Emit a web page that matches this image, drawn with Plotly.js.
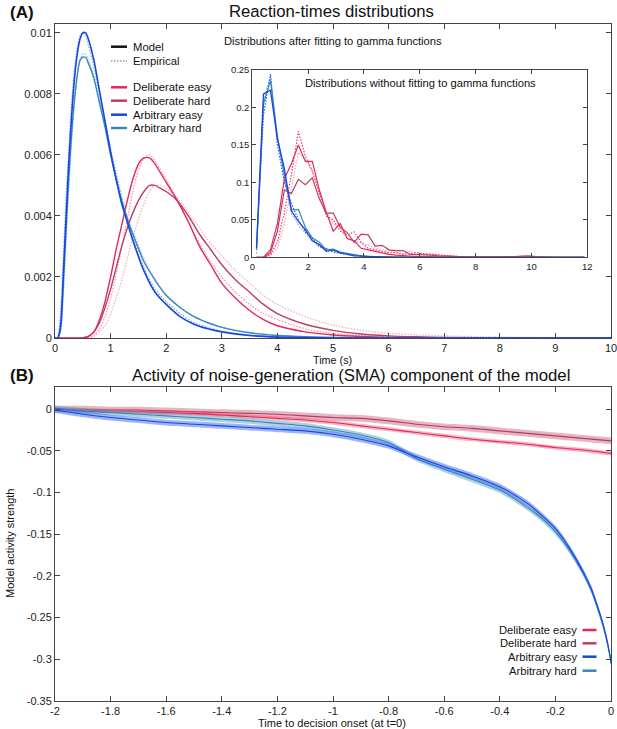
<!DOCTYPE html>
<html><head><meta charset="utf-8">
<script src="https://cdn.plot.ly/plotly-3.0.1.min.js"></script>
<style>html,body{margin:0;padding:0;background:#fff}#chart{width:617px;height:729px}</style>
</head><body><div id="chart"></div>
<script>
// ---------- Panel A: fitted gamma distributions ----------
const rtTimeArb = [0,0.05,0.1,0.15,0.2,0.25,0.3,0.35,0.4,0.45,0.5,0.55,0.6,0.7,0.8,0.9,1.0,1.1,1.2,1.3,1.4,1.6,1.8,2.0,2.25,2.5,2.75,3.0,3.5,4.0,4.5,5,6,7,8,9,10];
const arbEasyModel = [0,0,0.0004,0.0021,0.0040,0.0058,0.0073,0.0085,0.0093,0.0098,0.0100,0.0100,0.0098,0.0091,0.0081,0.0071,0.0061,0.0052,0.0044,0.0038,0.0032,0.0022,0.0015,0.0011,0.0007,0.00045,0.0003,0.0002,0.00008,0.00003,0.00001,0,0,0,0,0,0];
const arbHardModel = [0,0,0.0003,0.0018,0.0036,0.0053,0.0067,0.0078,0.0086,0.0091,0.0092,0.0092,0.0090,0.0085,0.0077,0.0069,0.0060,0.0052,0.0045,0.0039,0.0034,0.0025,0.0019,0.0014,0.0010,0.0007,0.0005,0.00035,0.00017,0.00008,0.00004,0.00002,0.00001,0,0,0,0];
const arbEasyEmp = [0,0.0001,0.0008,0.0027,0.0046,0.0063,0.0077,0.0088,0.0095,0.0099,0.0100,0.0099,0.0096,0.0089,0.0080,0.0071,0.0062,0.0054,0.0046,0.0039,0.0033,0.0023,0.0016,0.0012,0.0008,0.0005,0.00035,0.00022,0.0001,0.00004,0.00002,0.00001,0,0,0,0,0];
const arbHardEmp = [0,0,0.0002,0.0014,0.0032,0.0050,0.0065,0.0077,0.0086,0.0091,0.0093,0.0093,0.0091,0.0086,0.0078,0.0070,0.0061,0.0053,0.0046,0.0040,0.0035,0.0026,0.0019,0.0014,0.0010,0.0007,0.0005,0.00036,0.00018,0.00009,0.00004,0.00002,0.00001,0,0,0,0];

const rtTimeDel = [0,0.5,0.6,0.7,0.8,0.9,1.0,1.1,1.2,1.3,1.4,1.5,1.6,1.7,1.8,1.9,2.0,2.2,2.4,2.6,2.8,3.0,3.25,3.5,3.75,4.0,4.5,5.0,5.5,6.0,6.5,7.0,8.0,9.0,10];
const delEasyModel = [0,0,0.00005,0.0002,0.0006,0.0012,0.0020,0.0029,0.0037,0.0045,0.0052,0.0057,0.0059,0.0059,0.0057,0.0054,0.0051,0.0045,0.0038,0.0030,0.0024,0.0018,0.0013,0.0009,0.0006,0.0004,0.0002,0.0001,0.00005,0.00002,0.00001,0,0,0,0];
const delHardModel = [0,0,0.00005,0.0002,0.0005,0.0010,0.0016,0.0023,0.0030,0.0036,0.0041,0.0045,0.0048,0.0050,0.0050,0.0049,0.0048,0.0045,0.0040,0.0034,0.0029,0.0024,0.0019,0.0015,0.0011,0.0008,0.00045,0.00025,0.00013,0.00007,0.00004,0.00002,0,0,0];
const delEasyEmp = [0,0,0,0.0001,0.0003,0.0007,0.0013,0.0021,0.0030,0.0039,0.0048,0.0055,0.0059,0.0060,0.0058,0.0055,0.0052,0.0045,0.0038,0.0031,0.0025,0.0020,0.0015,0.0011,0.0008,0.0006,0.0003,0.00015,0.00008,0.00004,0.00002,0.00001,0,0,0];
const delHardEmp = [0,0,0,0.00005,0.0002,0.0004,0.0008,0.0013,0.0019,0.0026,0.0033,0.0039,0.0044,0.0048,0.0050,0.0050,0.0049,0.0046,0.0041,0.0036,0.0031,0.0027,0.0022,0.0018,0.0014,0.0011,0.0007,0.00042,0.00026,0.00016,0.0001,0.00007,0.00003,0.00001,0];

// ---------- Inset: raw histograms ----------
const binTime = [0.15,0.4,0.65,0.9,1.15,1.4,1.65,1.9,2.15,2.4,2.65,2.9,3.15,3.4,3.65,3.9,4.15,4.4,4.65,4.9,5.15,5.4,5.65,5.9,6.15,6.4,6.65,6.9,7.15,7.4,7.65,7.9,8.15,8.4,8.65,8.9,9.15,9.4,9.65,9.9,10.15,10.4,10.65,10.9,11.15,11.4,11.65,11.9];
const arbEasyRawModel = [0.012,0.218,0.223,0.158,0.118,0.062,0.048,0.037,0.022,0.017,0.008,0.010,0.006,0.004,0.002,0.0015,0.001,0.0005,0.0003,0.0002,0,0,0,0,0,0,0,0,0,0,0,0,0,0,0,0,0,0,0,0,0,0,0,0,0,0,0,0];
const arbHardRawModel = [0.010,0.205,0.236,0.160,0.110,0.063,0.064,0.040,0.026,0.020,0.010,0.011,0.007,0.005,0.003,0.002,0.001,0.0008,0.0005,0.0003,0.0002,0,0,0,0,0,0,0,0,0,0,0,0,0,0,0,0,0,0,0,0,0,0,0,0,0,0,0];
const arbEasyRawEmp = [0.012,0.190,0.245,0.150,0.100,0.072,0.050,0.034,0.025,0.014,0.012,0.007,0.005,0.004,0.002,0.001,0.001,0.0005,0.0003,0,0,0,0,0,0,0,0,0,0,0,0,0,0,0,0,0,0,0,0,0,0,0,0,0,0,0,0,0];
const arbHardRawEmp = [0.005,0.210,0.240,0.165,0.105,0.058,0.043,0.032,0.022,0.015,0.010,0.008,0.006,0.004,0.003,0.002,0.001,0.0005,0.0002,0,0,0,0,0,0,0,0,0,0,0,0,0,0,0,0,0,0,0,0,0,0,0,0,0,0,0,0,0];
const delEasyRawModel = [0,0,0.010,0.045,0.105,0.125,0.150,0.128,0.128,0.090,0.060,0.035,0.045,0.025,0.022,0.012,0.010,0.008,0.005,0.004,0.003,0.002,0.0015,0.001,0.001,0.0005,0.0005,0.0003,0.0002,0,0,0,0,0,0,0,0,0,0,0,0,0,0,0,0,0,0,0];
const delHardRawModel = [0,0,0.006,0.035,0.090,0.085,0.104,0.097,0.106,0.078,0.059,0.059,0.040,0.033,0.020,0.031,0.030,0.015,0.016,0.010,0.009,0.009,0.004,0.004,0.003,0.003,0.002,0.002,0.001,0.001,0.0005,0.0005,0.0005,0.0003,0.0003,0.0003,0.0005,0.001,0.0015,0.002,0.001,0.0005,0,0,0,0,0,0];
const delEasyRawEmp = [0,0,0.003,0.020,0.060,0.110,0.168,0.135,0.115,0.085,0.055,0.050,0.035,0.030,0.034,0.020,0.012,0.010,0.008,0.006,0.006,0.004,0.005,0.006,0.005,0.004,0.003,0.002,0.001,0.001,0.0005,0.0005,0,0,0,0,0,0,0,0,0,0,0,0,0,0,0,0];
const delHardRawEmp = [0,0,0.002,0.012,0.045,0.095,0.140,0.130,0.115,0.090,0.060,0.045,0.040,0.025,0.022,0.020,0.016,0.012,0.010,0.008,0.007,0.005,0.008,0.006,0.004,0.004,0.003,0.003,0.002,0.001,0.001,0.0005,0.0005,0.0003,0,0,0,0,0,0,0,0,0,0,0,0,0,0];

// ---------- Panel B: SMA activity ----------
const onsetTimeDel = [-2,-1.9,-1.8,-1.7,-1.6,-1.5,-1.4,-1.3,-1.2,-1.1,-1.0,-0.9,-0.8,-0.7,-0.6,-0.5,-0.4,-0.3,-0.2,-0.1,0];
const delEasyAct = [0,-0.001,-0.002,-0.003,-0.004,-0.005,-0.007,-0.009,-0.011,-0.013,-0.016,-0.020,-0.024,-0.028,-0.032,-0.036,-0.039,-0.042,-0.046,-0.049,-0.053];
const delHardAct = [0,0,-0.001,-0.001,-0.002,-0.003,-0.004,-0.005,-0.006,-0.008,-0.010,-0.011,-0.014,-0.018,-0.021,-0.023,-0.026,-0.029,-0.032,-0.035,-0.038];
const onsetTimeArb = [-2,-1.9,-1.8,-1.7,-1.6,-1.5,-1.4,-1.3,-1.2,-1.1,-1.0,-0.9,-0.8,-0.7,-0.6,-0.5,-0.4,-0.3,-0.25,-0.2,-0.15,-0.1,-0.07,-0.05,-0.03,-0.02,-0.01,0];
const arbEasyAct = [-0.001,-0.006,-0.010,-0.013,-0.016,-0.018,-0.020,-0.022,-0.024,-0.026,-0.030,-0.036,-0.044,-0.057,-0.069,-0.080,-0.093,-0.113,-0.127,-0.143,-0.166,-0.195,-0.216,-0.235,-0.256,-0.269,-0.284,-0.305];
const arbHardAct = [0.001,-0.002,-0.004,-0.006,-0.008,-0.010,-0.012,-0.014,-0.017,-0.020,-0.025,-0.031,-0.040,-0.059,-0.072,-0.084,-0.097,-0.118,-0.131,-0.147,-0.169,-0.197,-0.218,-0.237,-0.258,-0.271,-0.286,-0.300];
const delEasySem = 0.0025, delHardSem = 0.004, arbEasySem = 0.0035, arbHardSem = 0.0035;

// ---------- Tick labels & text ----------
const seriesNames = ['Deliberate easy','Deliberate hard','Arbitrary easy','Arbitrary hard'];
const bXTickVals = [-2,-1.8,-1.6,-1.4,-1.2,-1,-0.8,-0.6,-0.4,-0.2,0];
const bXTickText = ['-2','-1.8','-1.6','-1.4','-1.2','-1','-0.8','-0.6','-0.4','-0.2','0'];
const bYTickVals = [0,-0.05,-0.1,-0.15,-0.2,-0.25,-0.3,-0.35];
const bYTickText = ['0','-0.05','-0.1','-0.15','-0.2','-0.25','-0.3','-0.35'];

// ---------- styles ----------
const C = {de:'#e3285c', dh:'#be3d62', ae:'#1846e0', ah:'#3a87b5'};
const CE = {de:'#f09aae', dh:'#eeb0bf', ae:'#7fb0f0', ah:'#8cc0e6'};
const FONT = 'Liberation Sans, Arial, Helvetica, sans-serif';
const DOT = '1.5px,1.5px';

const W = 617, H = 729, ML = 55, MR = 6, MT = 24, MB = 28;
const PW = W - ML - MR, PH = H - MT - MB;
const px = v => (v - ML) / PW;
const py = v => (H - MB - v) / PH;

const traces = [];
function line(x, y, color, width, dash, xa, ya, shape) {
  traces.push({x, y, type:'scatter', mode:'lines', xaxis:xa, yaxis:ya, showlegend:false, hoverinfo:'skip',
    line:{color, width, dash: dash || 'solid', shape: shape || 'linear', smoothing: 0.8}});
}
// Panel A (empirical dotted first)
line(rtTimeDel, delHardEmp, CE.dh, 1.3, DOT, 'x', 'y', 'spline');
line(rtTimeDel, delEasyEmp, CE.de, 1.3, DOT, 'x', 'y', 'spline');
line(rtTimeArb, arbHardEmp, CE.ah, 1.3, DOT, 'x', 'y', 'spline');
line(rtTimeArb, arbEasyEmp, CE.ae, 1.3, DOT, 'x', 'y', 'spline');
line(rtTimeDel, delHardModel, C.dh, 1.4, null, 'x', 'y', 'spline');
line(rtTimeDel, delEasyModel, C.de, 1.4, null, 'x', 'y', 'spline');
line(rtTimeArb, arbHardModel, C.ah, 1.4, null, 'x', 'y', 'spline');
line(rtTimeArb, arbEasyModel, C.ae, 1.6, null, 'x', 'y', 'spline');
// Inset
line(binTime, delHardRawEmp, CE.de, 1.1, DOT, 'x3', 'y3');
line(binTime, delEasyRawEmp, C.de, 1.1, DOT, 'x3', 'y3');
line(binTime, arbHardRawEmp, CE.ae, 1.1, DOT, 'x3', 'y3');
line(binTime, arbEasyRawEmp, C.ae, 1.1, DOT, 'x3', 'y3');
line(binTime, delHardRawModel, C.dh, 1.2, null, 'x3', 'y3');
line(binTime, delEasyRawModel, C.de, 1.2, null, 'x3', 'y3');
line(binTime, arbHardRawModel, C.ah, 1.2, null, 'x3', 'y3');
line(binTime, arbEasyRawModel, C.ae, 1.3, null, 'x3', 'y3');
// Panel B bands + mean lines
function band(x, m, sem, fill, color) {
  const sp = {shape:'spline', smoothing:0.7};
  traces.push({x, y:m.map(v=>v-sem), type:'scatter', mode:'lines', xaxis:'x2', yaxis:'y2', line:Object.assign({width:0,color:fill}, sp), showlegend:false, hoverinfo:'skip'});
  traces.push({x, y:m.map(v=>v+sem), type:'scatter', mode:'lines', xaxis:'x2', yaxis:'y2', line:Object.assign({width:0,color:fill}, sp), fill:'tonexty', fillcolor:fill, showlegend:false, hoverinfo:'skip'});
  traces.push({x, y:m, type:'scatter', mode:'lines', xaxis:'x2', yaxis:'y2', line:Object.assign({width:1.1,color}, sp), showlegend:false, hoverinfo:'skip'});
}
band(onsetTimeDel, delHardAct, delHardSem, 'rgba(200,90,120,0.45)', '#b8385e');
band(onsetTimeDel, delEasyAct, delEasySem, 'rgba(235,70,110,0.40)', '#e3285c');
band(onsetTimeArb, arbHardAct, arbHardSem, 'rgba(90,165,195,0.50)', '#3a87b5');
band(onsetTimeArb, arbEasyAct, arbEasySem, 'rgba(60,105,240,0.50)', '#1846e0');

const axBase = {showline:true, linecolor:'#444', linewidth:1, mirror:'ticks', ticks:'inside', ticklen:5, tickcolor:'#444',
  showgrid:false, zeroline:false, ticklabeloverflow:'allow', tickfont:{family:FONT, size:11, color:'#222'}, fixedrange:true};

const ann = [];
function text(t, x, y, size, opts) {
  ann.push(Object.assign({text:t, x:px(x), y:py(y), xref:'paper', yref:'paper', showarrow:false,
    xanchor:'center', yanchor:'middle', font:{family:FONT, size, color:'#111'}}, opts || {}));
}
text('<b>(A)</b>', 22, 12, 17);
text('Reaction-times distributions', 331.5, 11.5, 16.7);
text('Distributions after fitting to gamma functions', 221.5, 40.7, 11.2, {xanchor:'left'});
text('Distributions without fitting to gamma functions', 420, 83.3, 11.2);
text('Time (s)', 332, 359.5, 10.8);
text('<b>(B)</b>', 22, 375, 17);
text('Activity of noise-generation (SMA) component of the model', 351, 375, 16.8);
text('Model activity strength', 10, 544, 11, {textangle:-90});
text('Time to decision onset (at t=0)', 332, 723, 11);

const shapes = [];
function seg(x0, x1, y, color, width, dash) {
  shapes.push({type:'line', xref:'paper', yref:'paper', x0:px(x0), x1:px(x1), y0:py(y), y1:py(y), line:{color, width, dash: dash || 'solid'}});
}
// Legend A
const legARows = [46.7, 61, 87.3, 100.7, 114.7, 128];
seg(111, 127, legARows[0], '#111', 2.5);
text('Model', 131, legARows[0], 11.3, {xanchor:'left'});
seg(111, 127, legARows[1], '#999', 1.5, DOT);
text('Empirical', 131, legARows[1], 11.3, {xanchor:'left'});
const legCols = [C.de, C.dh, C.ae, C.ah];
seriesNames.forEach((n, i) => {
  seg(111, 127, legARows[i+2], legCols[i], 2.5);
  text(n, 131, legARows[i+2], 11.3, {xanchor:'left'});
});
// Legend B
const legBRows = [630, 643.3, 656.7, 670.7];
seriesNames.forEach((n, i) => {
  seg(582.5, 596.5, legBRows[i], legCols[i], 2.5);
  text(n, 578.5, legBRows[i], 11.2, {xanchor:'right'});
});

const layout = {
  width:W, height:H, margin:{l:ML, r:MR, t:MT, b:MB}, paper_bgcolor:'#fff', plot_bgcolor:'rgba(0,0,0,0)',
  showlegend:false, font:{family:FONT, color:'#222'},
  xaxis: Object.assign({}, axBase, {domain:[0,1], anchor:'y', range:[0,10], tickvals:[0,1,2,3,4,5,6,7,8,9,10], ticktext:['0','1','2','3','4','5','6','7','8','9','10']}),
  yaxis: Object.assign({}, axBase, {domain:[py(338), 1], anchor:'x', range:[0,0.01029], tickvals:[0,0.002,0.004,0.006,0.008,0.01], ticktext:['0','0.002','0.004','0.006','0.008','0.01']}),
  xaxis2: Object.assign({}, axBase, {domain:[0,1], anchor:'y2', range:[-2,0], tickvals:bXTickVals, ticktext:bXTickText}),
  yaxis2: Object.assign({}, axBase, {domain:[0, py(386.7)], anchor:'x2', range:[-0.35,0.027], tickvals:bYTickVals, ticktext:bYTickText}),
  xaxis3: Object.assign({}, axBase, {domain:[px(252.3), px(587.3)], anchor:'y3', range:[0,12], tickvals:[0,2,4,6,8,10,12], ticklen:4, tickfont:{family:FONT, size:9.5, color:'#222'}}),
  yaxis3: Object.assign({}, axBase, {domain:[py(257.3), py(70)], anchor:'x3', range:[0,0.25], tickvals:[0,0.05,0.1,0.15,0.2,0.25], ticktext:['0','0.05','0.1','0.15','0.2','0.25'], ticklen:4, tickfont:{family:FONT, size:9.5, color:'#222'}}),
  annotations: ann, shapes: shapes
};
Plotly.newPlot('chart', traces, layout, {staticPlot:true, displayModeBar:false});
</script></body></html>
